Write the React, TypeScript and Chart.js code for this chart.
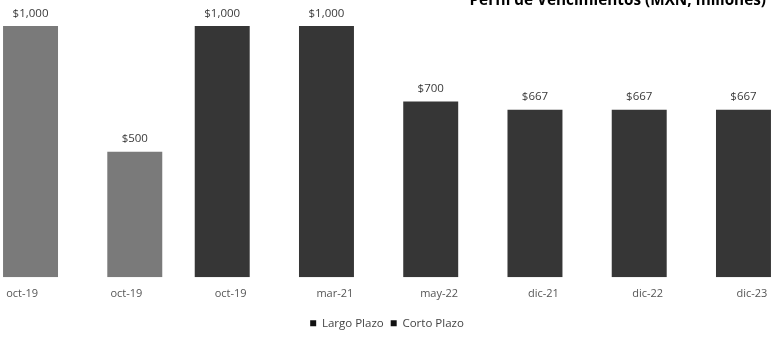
import React, { useEffect, useRef } from "react";
import { Chart, registerables } from "chart.js";

Chart.register(...registerables);

const categories = ["oct-19", "oct-19", "oct-19", "mar-21", "may-22", "dic-21", "dic-22", "dic-23"];
const largoPlazo: (number | null)[] = [null, null, 1000, 1000, 700, 667, 667, 667];
const cortoPlazo: (number | null)[] = [1000, 500, null, null, null, null, null, null];
const seriesNames = ["Largo Plazo", "Corto Plazo"];
const titleText = "Perfil de Vencimientos (MXN, millones)";

const FONT = "'Open Sans', 'DejaVu Sans', sans-serif";

const valueLabels = {
  id: "valueLabels",
  afterDatasetsDraw(chart: any) {
    const ctx = chart.ctx;
    ctx.save();
    ctx.font = `11.5px ${FONT}`;
    ctx.fillStyle = "#3a3a3a";
    ctx.textAlign = "center";
    ctx.textBaseline = "bottom";
    chart.data.datasets.forEach((ds: any, i: number) => {
      const meta = chart.getDatasetMeta(i);
      meta.data.forEach((bar: any, j: number) => {
        const v = ds.data[j];
        if (v === null || v === undefined) return;
        ctx.fillText("$" + v.toLocaleString("en-US"), bar.x, bar.y - 7);
      });
    });
    ctx.restore();
  },
};

const cornerTitle = {
  id: "cornerTitle",
  afterDraw(chart: any) {
    const ctx = chart.ctx;
    ctx.save();
    ctx.font = `bold 15.3px ${FONT}`;
    ctx.fillStyle = "#000";
    ctx.textAlign = "right";
    ctx.textBaseline = "alphabetic";
    ctx.fillText(titleText, chart.width - 38, 5);
    ctx.restore();
  },
};

export default function App() {
  const ref = useRef<HTMLCanvasElement | null>(null);
  useEffect(() => {
    if (!ref.current) return;
    const chart = new Chart(ref.current, {
      type: "bar",
      data: {
        labels: categories,
        datasets: [
          {
            label: seriesNames[0],
            data: largoPlazo,
            backgroundColor: "#363636",
          },
          {
            label: seriesNames[1],
            data: cortoPlazo,
            backgroundColor: "#7a7a7a",
          },
        ],
      },
      options: {
        animation: false,
        responsive: false,
        maintainAspectRatio: false,
        categoryPercentage: 0.3225,
        barPercentage: 3.27,
        layout: { padding: { top: 1, left: 0, right: 0, bottom: 0 } },
        scales: {
          x: {
            grid: { display: false, drawTicks: false },
            border: { display: false },
            ticks: { color: "#555", font: { family: FONT, size: 11 }, padding: 10, maxRotation: 0, autoSkip: false },
          },
          y: {
            display: false,
            min: 0,
            max: 1100,
          },
        },
        plugins: {
          legend: {
            position: "bottom",
            labels: {
              color: "#444",
              font: { family: FONT, size: 11.5 },
              boxWidth: 6,
              boxHeight: 6,
              padding: 7,
              generateLabels(c: any) {
                const items = Chart.defaults.plugins.legend.labels.generateLabels(c);
                return items.map((it: any) => ({ ...it, fillStyle: "#111", strokeStyle: "#111", lineWidth: 0 }));
              },
            },
          },
          title: { display: false },
          tooltip: { enabled: false },
        },
      },
      plugins: [valueLabels, cornerTitle],
    });
    return () => chart.destroy();
  }, []);

  return (
    <div style={{ position: "fixed", left: 0, top: 0, width: 775, height: 339, overflow: "hidden", background: "#fff" }}>
      <canvas ref={ref} width={834} height={339} style={{ position: "absolute", left: -30, top: 0, width: 834, height: 339 }} />
    </div>
  );
}
